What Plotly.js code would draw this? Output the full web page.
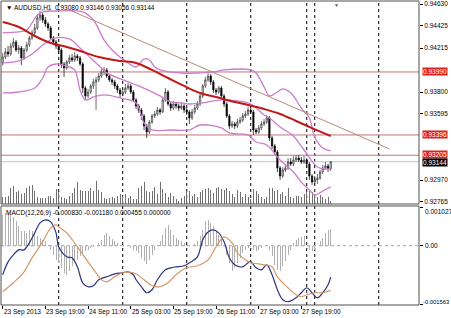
<!DOCTYPE html>
<html><head><meta charset="utf-8">
<script src="https://cdn.plot.ly/plotly-3.0.1.min.js"></script>
<style>html,body{margin:0;padding:0;background:#fff;}#chart{width:451px;height:318px;}</style>
</head><body><div id="chart"></div>
<script>
// ---- data (AUDUSD, H1) ----
const openP = [
0.94075,0.94131,0.94179,0.94160,0.94235,0.94273,0.94197,0.94216,0.94122,0.94197,
0.94245,0.94311,0.94358,0.94405,0.94499,0.94527,0.94480,0.94443,0.94405,0.94311,
0.94273,0.94235,0.94197,0.94065,0.94028,0.94084,0.94122,0.94103,0.94141,0.94122,
0.94065,0.93839,0.93764,0.93801,0.93858,0.93896,0.93915,0.93952,0.93990,0.94009,
0.93952,0.93915,0.93896,0.93858,0.93820,0.93782,0.93801,0.93839,0.93858,0.93801,
0.93726,0.93669,0.93632,0.93575,0.93481,0.93424,0.93518,0.93575,0.93594,0.93632,
0.93613,0.93726,0.93801,0.93688,0.93650,0.93688,0.93669,0.93650,0.93669,0.93632,
0.93613,0.93556,0.93613,0.93650,0.93688,0.93764,0.93858,0.93915,0.93952,0.93896,
0.93820,0.93801,0.93839,0.93764,0.93688,0.93575,0.93481,0.93500,0.93481,0.93518,
0.93537,0.93575,0.93594,0.93632,0.93613,0.93443,0.93424,0.93462,0.93500,0.93518,
0.93556,0.93368,0.93292,0.93236,0.93085,0.93009,0.93066,0.93085,0.93141,0.93122,
0.93160,0.93179,0.93160,0.93141,0.93160,0.93122,0.93009,0.92953,0.92972,0.92990,
0.93047,0.93085,0.93104,0.93080];
const highP = [
0.94170,0.94216,0.94235,0.94264,0.94311,0.94292,0.94245,0.94235,0.94216,0.94273,
0.94330,0.94386,0.94443,0.94537,0.94565,0.94546,0.94508,0.94461,0.94424,0.94330,
0.94292,0.94254,0.94216,0.94084,0.94103,0.94150,0.94160,0.94179,0.94160,0.94141,
0.94084,0.93858,0.93830,0.93877,0.93924,0.93943,0.93980,0.94018,0.94037,0.94028,
0.93971,0.93933,0.93915,0.93877,0.93839,0.93830,0.93877,0.93886,0.93877,0.93820,
0.93745,0.93688,0.93650,0.93594,0.93500,0.93537,0.93594,0.93622,0.93660,0.93650,
0.93745,0.93839,0.93820,0.93707,0.93716,0.93707,0.93688,0.93698,0.93688,0.93650,
0.93632,0.93641,0.93679,0.93716,0.93782,0.93877,0.93943,0.93990,0.93971,0.93915,
0.93839,0.93858,0.93858,0.93782,0.93707,0.93594,0.93528,0.93518,0.93547,0.93566,
0.93603,0.93622,0.93660,0.93650,0.93632,0.93462,0.93490,0.93528,0.93547,0.93585,
0.93575,0.93386,0.93311,0.93254,0.93103,0.93094,0.93113,0.93179,0.93179,0.93198,
0.93207,0.93207,0.93188,0.93198,0.93179,0.93141,0.93028,0.93009,0.93028,0.93066,
0.93113,0.93141,0.93122,0.93146];
const lowP = [
0.94050,0.94110,0.94131,0.94141,0.94216,0.94179,0.94160,0.94056,0.94103,0.94179,
0.94226,0.94292,0.94330,0.94386,0.94470,0.94452,0.94414,0.94376,0.94292,0.94245,
0.94207,0.94160,0.94028,0.93943,0.94009,0.94065,0.94084,0.94084,0.94094,0.94046,
0.93792,0.93726,0.93745,0.93782,0.93830,0.93632,0.93896,0.93933,0.93962,0.93933,
0.93896,0.93867,0.93830,0.93792,0.93745,0.93764,0.93782,0.93820,0.93782,0.93707,
0.93641,0.93603,0.93537,0.93443,0.93368,0.93405,0.93500,0.93556,0.93575,0.93585,
0.93603,0.93707,0.93669,0.93622,0.93632,0.93641,0.93622,0.93632,0.93603,0.93585,
0.93500,0.93537,0.93594,0.93632,0.93669,0.93745,0.93839,0.93896,0.93867,0.93792,
0.93773,0.93782,0.93745,0.93660,0.93556,0.93452,0.93462,0.93452,0.93462,0.93500,
0.93518,0.93556,0.93575,0.93594,0.93396,0.93405,0.93405,0.93443,0.93481,0.93500,
0.93339,0.93264,0.93207,0.93047,0.92972,0.92990,0.93047,0.93066,0.93103,0.93103,
0.93141,0.93141,0.93122,0.93122,0.93085,0.92972,0.92925,0.92934,0.92934,0.92972,
0.93028,0.93066,0.93047,0.93056];
const closeP = [
0.94131,0.94179,0.94160,0.94235,0.94273,0.94197,0.94216,0.94122,0.94197,0.94245,
0.94311,0.94358,0.94405,0.94499,0.94527,0.94480,0.94443,0.94405,0.94311,0.94273,
0.94235,0.94197,0.94065,0.94028,0.94084,0.94122,0.94103,0.94141,0.94122,0.94065,
0.93839,0.93764,0.93801,0.93858,0.93896,0.93915,0.93952,0.93990,0.94009,0.93952,
0.93915,0.93896,0.93858,0.93820,0.93782,0.93801,0.93839,0.93858,0.93801,0.93726,
0.93669,0.93632,0.93575,0.93481,0.93424,0.93518,0.93575,0.93594,0.93632,0.93613,
0.93726,0.93801,0.93688,0.93650,0.93688,0.93669,0.93650,0.93669,0.93632,0.93613,
0.93556,0.93613,0.93650,0.93688,0.93764,0.93858,0.93915,0.93952,0.93896,0.93820,
0.93801,0.93839,0.93764,0.93688,0.93575,0.93481,0.93500,0.93481,0.93518,0.93537,
0.93575,0.93594,0.93632,0.93613,0.93443,0.93424,0.93462,0.93500,0.93518,0.93556,
0.93368,0.93292,0.93236,0.93085,0.93009,0.93066,0.93085,0.93141,0.93122,0.93160,
0.93179,0.93160,0.93141,0.93160,0.93122,0.93009,0.92953,0.92972,0.92990,0.93047,
0.93085,0.93104,0.93080,0.93144];
const volume = [
700,700,800,1600,1800,1200,1300,1000,1100,1600,
1800,1900,1300,700,600,600,600,800,800,600,
1500,1200,700,600,500,800,1100,1600,2200,1400,
1300,1300,1300,1600,1300,2300,1400,1200,600,500,
600,700,600,800,1000,800,1000,600,800,500,
500,1600,1800,2200,1300,1200,1300,1700,1000,2200,
1500,1100,700,1100,800,500,300,600,800,1300,
1300,800,1000,700,1200,1400,1500,1600,1400,1100,
1600,1700,1500,1400,1600,1300,1000,700,1400,1200,
700,1000,700,500,1500,1300,1000,700,500,700,
1600,1600,1300,1400,1000,1200,800,1600,700,600,
800,800,700,1000,1200,1300,1200,1000,700,900,
700,500,700,300];
const macdHist = [
0.000819,0.000881,0.000907,0.000846,0.000775,0.000643,0.000511,0.000379,0.000379,0.000335,
0.000423,0.000379,0.000291,0.000247,0.000203,0.000159,0.000115,0.000026,-0.000106,-0.000238,
-0.000370,-0.000458,-0.000590,-0.000722,-0.000766,-0.000678,-0.000546,-0.000458,-0.000370,-0.000282,
-0.000194,-0.000150,-0.000106,-0.000062,-0.000035,-0.000018,0.000070,0.000159,0.000291,0.000335,
0.000247,0.000176,0.000115,0.000070,0.000026,0.000009,0.000000,-0.000018,-0.000062,-0.000106,
-0.000150,-0.000194,-0.000326,-0.000414,-0.000476,-0.000370,-0.000238,-0.000106,-0.000018,0.000115,
0.000291,0.000467,0.000555,0.000423,0.000291,0.000203,0.000159,0.000115,0.000070,0.000026,
-0.000018,0.000000,0.000053,0.000115,0.000247,0.000423,0.000643,0.000687,0.000599,0.000511,
0.000379,0.000291,0.000203,0.000026,-0.000238,-0.000458,-0.000678,-0.000590,-0.000458,-0.000326,
-0.000194,-0.000106,-0.000062,-0.000035,-0.000106,-0.000150,-0.000106,-0.000062,-0.000018,0.000000,
-0.000106,-0.000282,-0.000502,-0.000634,-0.000678,-0.000546,-0.000414,-0.000238,-0.000106,0.000070,
0.000159,0.000203,0.000229,0.000247,-0.000018,-0.000106,-0.000150,-0.000106,-0.000018,0.000115,
0.000203,0.000335,0.000405,0.000455];
const macdLineX = [0,2,4,6,8,10,12,14,16,18,20,21,24,26,28,30,32,34,36,39,42,45,47,49,50,52,54,56,58,61,63,65,68,70,73,75,77,79,81,83,85,87,90,92,93,95,97,99,101,103,105,107,110,112,114,116,118,120,122,123];
const macdLine = [-0.000769,-0.000426,-0.000241,-0.000108,-0.000108,0.000077,0.000341,0.000605,0.000685,0.000632,
0.000341,-0.000029,-0.000293,-0.000320,-0.000558,-0.000981,-0.001086,-0.001060,-0.000901,-0.000822,
-0.000743,-0.000716,-0.000690,-0.000769,-0.000901,-0.001086,-0.001245,-0.001166,-0.000901,-0.000637,
-0.000584,-0.000558,-0.000531,-0.000452,-0.000293,0.000156,0.000367,0.000420,0.000341,0.000103,
-0.000320,-0.000505,-0.000558,-0.000452,-0.000426,-0.000584,-0.000637,-0.000505,-0.000769,-0.001166,
-0.001430,-0.001483,-0.001377,-0.001245,-0.001113,-0.001245,-0.001377,-0.001245,-0.001033,-0.000830];
const signalX = [0,4,8,11,15,18,20,21,24,28,32,35,37,39,42,45,49,53,56,59,62,65,69,73,77,80,83,86,88,91,93,96,98,101,103,107,110,112,114,117,120,123];
const signalLine = [-0.001218,-0.000981,-0.000690,-0.000320,0.000103,0.000473,0.000552,0.000500,0.000341,-0.000029,
-0.000426,-0.000716,-0.000901,-0.000954,-0.000822,-0.000716,-0.000716,-0.000901,-0.001060,-0.001086,
-0.000981,-0.000769,-0.000584,-0.000531,-0.000373,-0.000029,0.000235,0.000077,-0.000188,-0.000373,
-0.000452,-0.000478,-0.000505,-0.000558,-0.000822,-0.001113,-0.001298,-0.001351,-0.001298,-0.001245,
-0.001245,-0.001180];
const maX = [0,6,12,18,24,28,36,44,50,56,62,68,74,80,84,92,98,104,110,116,123];
const maVal = [0.94461,0.94414,0.94329,0.94263,0.94226,0.94197,0.94131,0.94094,0.94075,0.94009,0.93933,0.93858,0.93792,0.93754,0.93726,0.93679,0.93641,0.93594,0.93528,0.93461,0.93386];
const bbUpX = [0,6,9,11,13,15,21,30,34,38,41,47,50,53,55,57,59,67,79,83,93,95,98,100,103,105,108,112,115,117,120,123];
const bbUp = [0.94358,0.94367,0.94386,0.94452,0.94527,0.94556,0.94565,0.94556,0.94480,0.94292,
0.94197,0.94075,0.94037,0.94113,0.94103,0.94037,0.94009,0.93980,0.93990,0.94009,
0.94009,0.93980,0.93849,0.93764,0.93801,0.93830,0.93792,0.93650,0.93556,0.93377,0.93273,0.93245];
const bbMidX = [0,6,11,16,20,25,29,33,37,39,47,51,59,63,67,70,75,79,83,88,93,98,100,104,109,113,118,121,123];
const bbMid = [0.94075,0.94094,0.94160,0.94263,0.94311,0.94301,0.94216,0.94122,0.94028,0.93981,
0.93896,0.93858,0.93764,0.93707,0.93698,0.93688,0.93698,0.93717,0.93726,0.93717,
0.93688,0.93585,0.93556,0.93471,0.93386,0.93254,0.93094,0.93075,0.93075];
const bbLowX = [0,6,12,15,17,20,24,27,29,31,34,38,44,50,53,56,63,70,74,82,85,92,95,99,104,109,112,115,117,120,123];
const bbLow = [0.93792,0.93801,0.93839,0.93933,0.94037,0.94065,0.94046,0.94009,0.93820,0.93726,
0.93754,0.93773,0.93745,0.93698,0.93509,0.93443,0.93443,0.93443,0.93490,0.93462,
0.93415,0.93396,0.93330,0.93302,0.93160,0.93047,0.92952,0.92877,0.92830,0.92868,0.92906];
const trendX = [25,145];
const trendY = [0.94575,0.93264];
const levelLines = [0.93990,0.93396,0.93205];
const bidPrice = 0.93144;
const priceTicks = [0.94630,0.94425,0.94215,0.93800,0.93595,0.92970,0.92765];
const macdTicks = [0.001027,0,-0.001563];
const macdTickText = ['0.001027','0.00','-0.001563'];
const timeLabelBars = [0,16,32,48,64,80,96,112];
const timeLabels = ['23 Sep 2013','23 Sep 19:00','24 Sep 11:00','25 Sep 03:00','25 Sep 19:00','26 Sep 11:00','27 Sep 03:00','27 Sep 19:00'];
const gridBars = [21,45,69,93,117,141];
const extraVLines = [114];
const titleText = '▼ AUDUSD,H1  0.93080 0.93146 0.93056 0.93144';
const macdTitle = 'MACD(12,26,9) -0.000830 -0.001180 0.000455 0.000000';

// ---- drawing ----
const bars = closeP.map((_, i) => i);
const XR = [-0.64, 156.1];
const FONT = 'Liberation Sans, Arial, sans-serif';
const FS = 6.5;
const mainDom = [0.3322, 1];
const macdDom = [0, 0.3257];

const traces = [
  {type:'bar', x:bars, y:volume, xaxis:'x', yaxis:'y', width:0.4,
   marker:{color:'#707070', line:{width:0}}, hoverinfo:'skip'},
  {type:'candlestick', x:bars, open:openP, high:highP, low:lowP, close:closeP, xaxis:'x', yaxis:'y3',
   increasing:{line:{color:'#2e2e2e', width:0.7}, fillcolor:'#ffffff'},
   decreasing:{line:{color:'#000000', width:0.7}, fillcolor:'#000000'},
   whiskerwidth:0, hoverinfo:'skip'},
  {type:'scatter', mode:'lines', x:bbUpX, y:bbUp, xaxis:'x', yaxis:'y3', line:{color:'#cc7ccc', width:1.3, shape:'spline'}, hoverinfo:'skip'},
  {type:'scatter', mode:'lines', x:bbMidX, y:bbMid, xaxis:'x', yaxis:'y3', line:{color:'#cc7ccc', width:1.3, shape:'spline'}, hoverinfo:'skip'},
  {type:'scatter', mode:'lines', x:bbLowX, y:bbLow, xaxis:'x', yaxis:'y3', line:{color:'#cc7ccc', width:1.3, shape:'spline'}, hoverinfo:'skip'},
  {type:'scatter', mode:'lines', x:maX, y:maVal, xaxis:'x', yaxis:'y3', line:{color:'#c01818', width:2, shape:'spline'}, hoverinfo:'skip'},
  {type:'scatter', mode:'lines', x:trendX, y:trendY, xaxis:'x', yaxis:'y3', line:{color:'#b88a74', width:1}, hoverinfo:'skip'},
  {type:'bar', x:bars, y:macdHist, xaxis:'x2', yaxis:'y2', width:0.4,
   marker:{color:'#b0b0b0', line:{width:0}}, hoverinfo:'skip'},
  {type:'scatter', mode:'lines', x:macdLineX, y:macdLine, xaxis:'x2', yaxis:'y2', line:{color:'#2c3480', width:1.2, shape:'spline'}, hoverinfo:'skip'},
  {type:'scatter', mode:'lines', x:signalX, y:signalLine, xaxis:'x2', yaxis:'y2', line:{color:'#d49868', width:1.2, shape:'spline'}, hoverinfo:'skip'}
];

const shapes = [];
shapes.push({type:'rect', xref:'paper', yref:'y domain', x0:0, x1:1, y0:0, y1:1, line:{color:'#505050', width:1}, layer:'above'});
shapes.push({type:'rect', xref:'paper', yref:'y2 domain', x0:0, x1:1, y0:0, y1:1, line:{color:'#505050', width:1}, layer:'above'});
gridBars.concat(extraVLines).forEach(b => {
  ['y domain','y2 domain'].forEach(r => shapes.push({type:'line', xref:'x', yref:r, x0:b, x1:b, y0:0, y1:1,
    line:{color:'#000', width:1, dash:'dot'}, layer:'below'}));
});
levelLines.forEach(v => shapes.push({type:'line', xref:'paper', yref:'y3', x0:0, x1:1, y0:v, y1:v,
  line:{color:'#bf7676', width:1}, layer:'below'}));
shapes.push({type:'line', xref:'paper', yref:'y3', x0:0, x1:1, y0:bidPrice, y1:bidPrice, line:{color:'#c4c4c4', width:1}, layer:'below'});
shapes.push({type:'line', xref:'paper', yref:'y2', x0:0, x1:1, y0:0, y1:0, line:{color:'#a0a0a0', width:1, dash:'dot'}, layer:'below'});

const annotations = [];
annotations.push({text:titleText, xref:'paper', yref:'y domain', x:0, y:1, xanchor:'left', yanchor:'top', xshift:3, yshift:-1,
  showarrow:false, font:{family:FONT, size:FS, color:'#000'}});
annotations.push({text:macdTitle, xref:'paper', yref:'y2 domain', x:0, y:1, xanchor:'left', yanchor:'top', xshift:3, yshift:-1,
  showarrow:false, font:{family:FONT, size:FS, color:'#000'}});
annotations.push({text:'▼', xref:'x', yref:'y domain', x:125, y:1, xanchor:'center', yanchor:'top', yshift:1,
  showarrow:false, font:{family:FONT, size:5, color:'#555'}});
timeLabelBars.forEach((b, i) => annotations.push({text:timeLabels[i], xref:'x2', yref:'y2 domain', x:b, y:0,
  xanchor:'left', yanchor:'top', xshift:-1, yshift:-1, showarrow:false, font:{family:FONT, size:FS, color:'#000'}}));
// MACD scale texts (top one hangs below its value, bottom one sits above it)
const macdAnchors = ['top','middle','bottom'];
const macdXShift = [4, 4, 2];
const macdFs = [FS, FS, 5.8];
macdTicks.forEach((v, i) => annotations.push({text:macdTickText[i], xref:'paper', yref:'y2', x:1, y:v,
  xanchor:'left', yanchor:macdAnchors[i], xshift:macdXShift[i], yshift:(i===0?1:(i===2?-2:0)), showarrow:false,
  font:{family:FONT, size:macdFs[i], color:'#000'}}));
// price-line boxes
const boxShift = [0, 0, 1];
levelLines.forEach((v, i) => annotations.push({text:v.toFixed(5), xref:'paper', yref:'y3', x:1, y:v, xanchor:'left', yanchor:'middle',
  xshift:3, yshift:boxShift[i], showarrow:false, bgcolor:'#e0201c', borderpad:0, font:{family:FONT, size:FS, color:'#fff'}}));
annotations.push({text:bidPrice.toFixed(5), xref:'paper', yref:'y3', x:1, y:bidPrice, xanchor:'left', yanchor:'middle',
  xshift:3, yshift:-1, showarrow:false, bgcolor:'#000', borderpad:0, font:{family:FONT, size:FS, color:'#fff'}});

const layout = {
  width:451, height:318, margin:{l:1, r:32, t:1, b:13},
  paper_bgcolor:'#fff', plot_bgcolor:'#fff', showlegend:false,
  font:{family:FONT, size:FS, color:'#000'}, bargap:0,
  xaxis:{domain:[0,1], range:XR, anchor:'y', showticklabels:false, ticks:'', showgrid:false, zeroline:false,
    showline:false, rangeslider:{visible:false}, fixedrange:true},
  xaxis2:{domain:[0,1], range:XR, anchor:'y2', tickvals:timeLabelBars, ticktext:timeLabelBars.map(()=>''),
    ticks:'outside', ticklen:3, tickcolor:'#000', showticklabels:false, showgrid:false, zeroline:false, showline:false},
  yaxis:{domain:mainDom, range:[0,20300], visible:false, fixedrange:true},
  yaxis3:{overlaying:'y', anchor:'x', side:'right', range:[0.92745,0.94659], tickvals:priceTicks,
    ticktext:priceTicks.map(v=>v.toFixed(5)), ticks:'outside', ticklen:3, tickcolor:'#000',
    showgrid:false, zeroline:false, showline:false, tickfont:{family:FONT, size:FS, color:'#000'}},
  yaxis2:{domain:macdDom, anchor:'x2', side:'right', range:[-0.001570,0.001054], tickvals:macdTicks,
    ticks:'outside', ticklen:3, tickcolor:'#000', showticklabels:false, showgrid:false, zeroline:false, showline:false},
  shapes:shapes, annotations:annotations
};

Plotly.newPlot('chart', traces, layout, {staticPlot:true, displayModeBar:false});
</script>
</body></html>
